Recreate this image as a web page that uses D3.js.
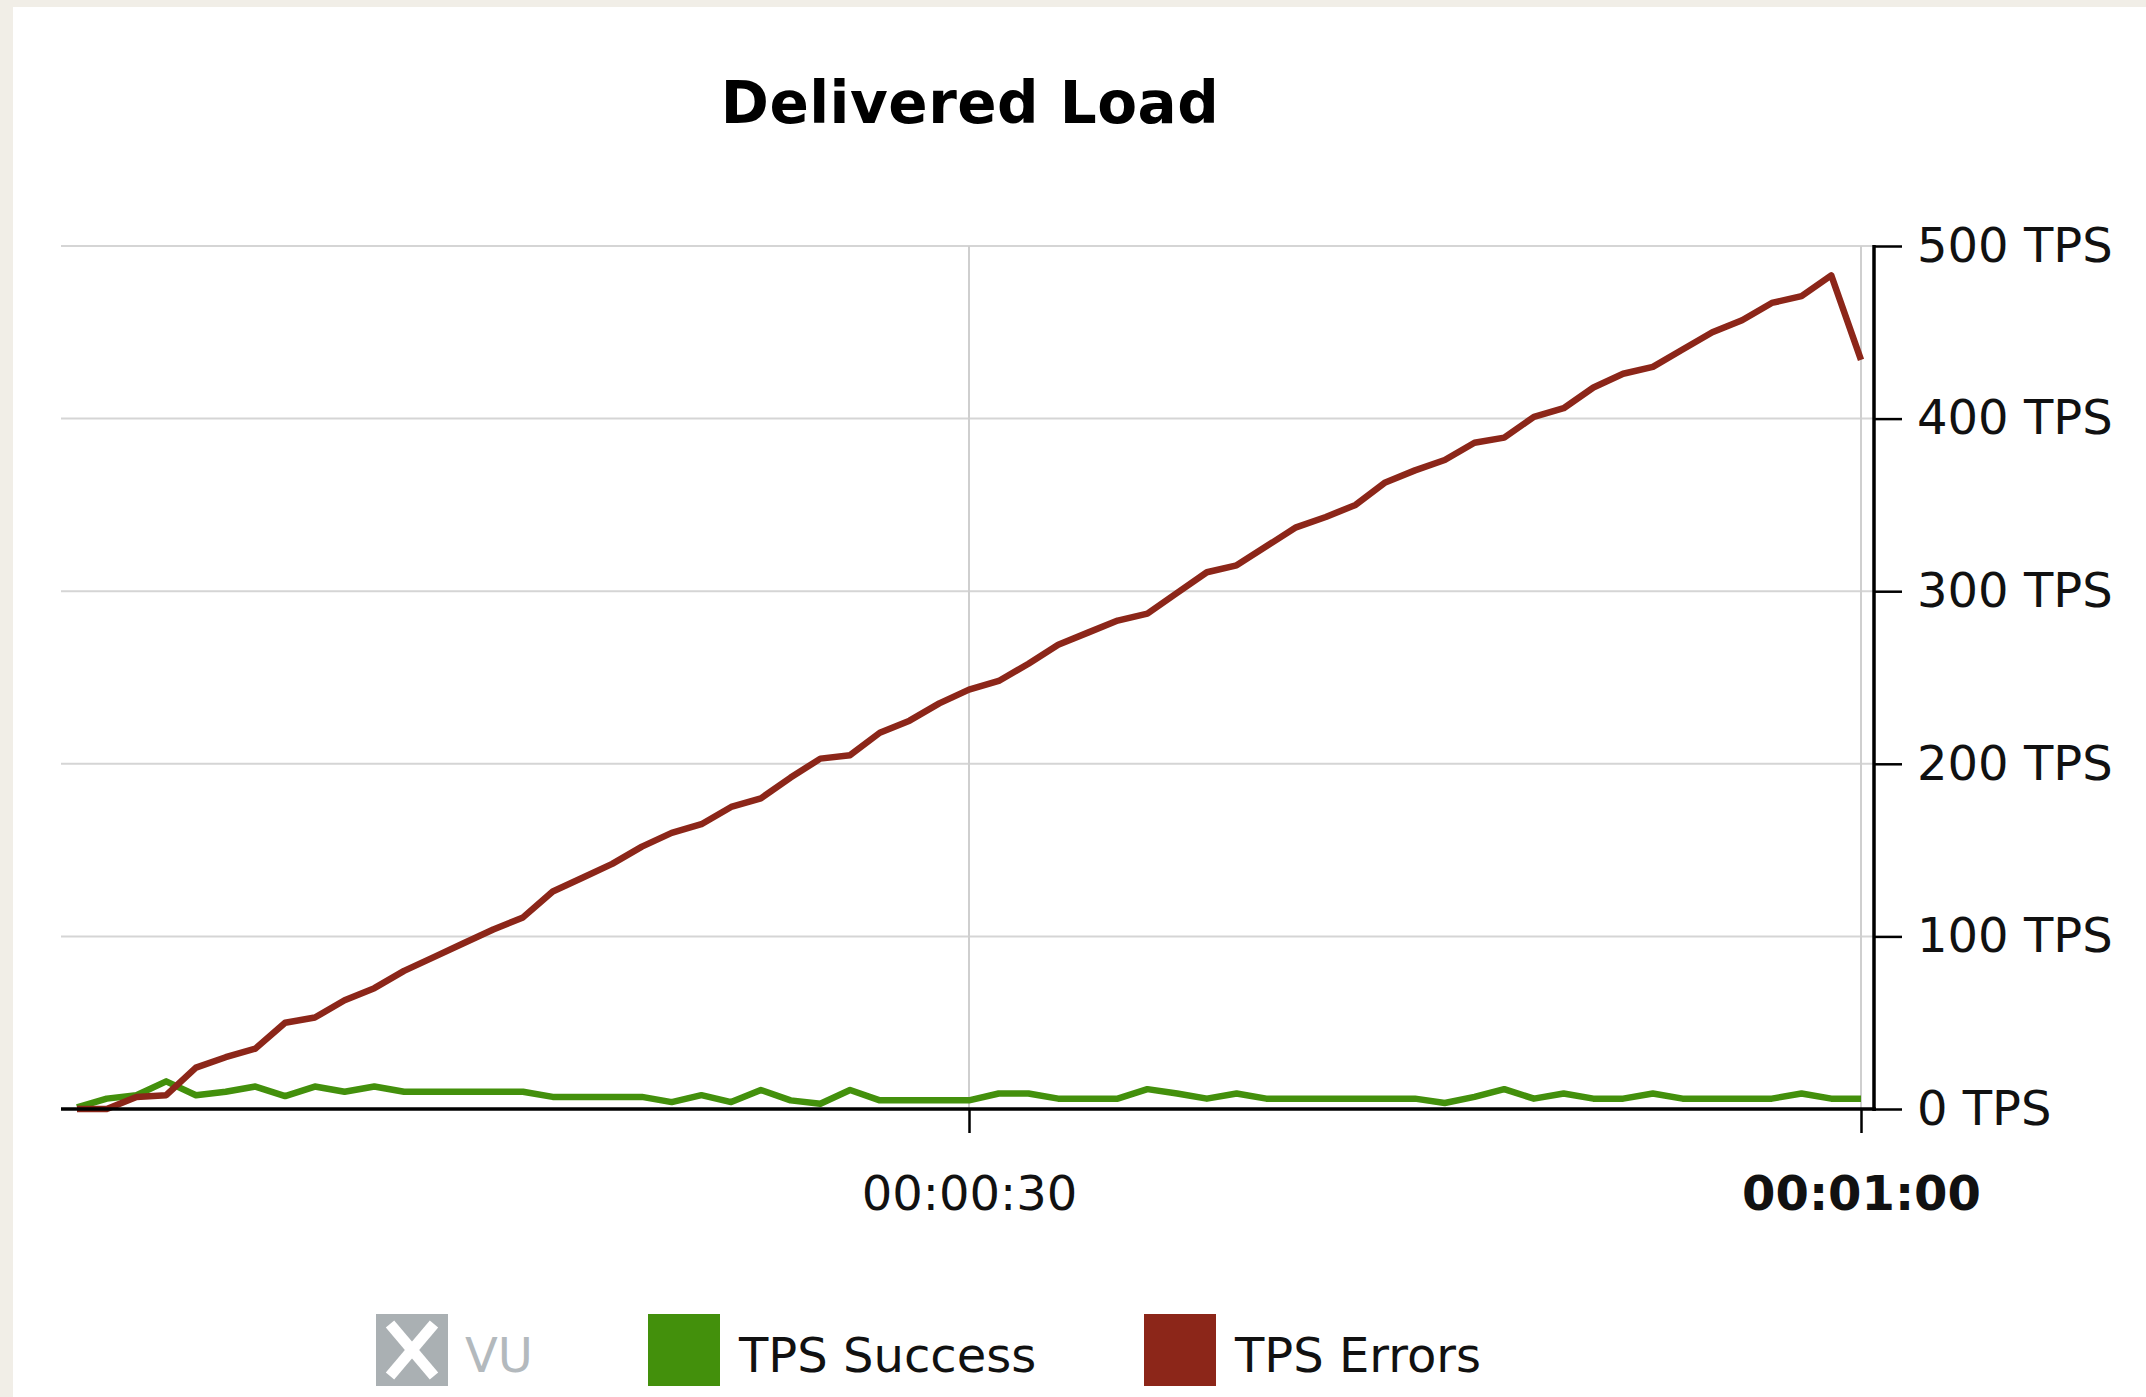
<!DOCTYPE html>
<html>
<head>
<meta charset="utf-8">
<script src="https://cdn.jsdelivr.net/npm/d3@7"></script>
<style>
  html, body { margin: 0; padding: 0; background: #f1eee7; }
  svg { display: block; }
</style>
</head>
<body>
<div id="chart"></div>
<script>
// seconds 0..60, one sample per second
var seconds = d3.range(0, 61);

var tpsErrors = [0, 0, 7, 8, 24, 30, 35, 50, 53, 63,
  70, 80, 88, 96, 104, 111, 126, 134, 142, 152,
  160, 165, 175, 180, 192, 203, 205, 218, 225, 235,
  243, 248, 258, 269, 276, 283, 287, 299, 311, 315,
  326, 337, 343, 350, 363, 370, 376, 386, 389, 401,
  406, 418, 426, 430, 440, 450, 457, 467, 471, 483,
  434];

var tpsSuccess = [1, 6, 8, 16, 8, 10, 13, 7.5, 13, 10,
  13, 10, 10, 10, 10, 10, 7, 7, 7, 7,
  4, 8, 4, 11, 5, 3, 11, 5, 5, 5,
  5, 9, 9, 6, 6, 6, 11.5, 9, 6, 9,
  6, 6, 6, 6, 6, 6, 3.5, 7, 11.5, 6,
  9, 6, 6, 9, 6, 6, 6, 6, 9, 6,
  6];

var yTicks = [0, 100, 200, 300, 400, 500];
var xTicks = [30, 60];
var xTickLabels = ["00:00:30", "00:01:00"];

var legendItems = ["VU", "TPS Success", "TPS Errors"];

var width = 2146;
var height = 1397;
var font = "'DejaVu Sans', Verdana, sans-serif";

var green = "#43900c";
var red = "#8c2619";

var svg = d3.select("#chart")
  .append("svg")
  .attr("width", width)
  .attr("height", height);

// white panel over the paper background
svg.append("rect")
  .attr("x", 13).attr("y", 7)
  .attr("width", width - 13).attr("height", height - 7)
  .attr("fill", "#fff");

/* Scale */
var xScale = d3.scaleLinear().domain([0, 60]).range([77, 1861]);
var yScale = d3.scaleLinear().domain([0, 500]).range([1109, 246]);

var plotLeft = 61;
var plotRight = 1874;

/* grid */
svg.append("g")
  .selectAll("line")
  .data(yTicks.filter(d => d > 0))
  .enter().append("line")
  .attr("x1", plotLeft).attr("x2", plotRight)
  .attr("y1", d => yScale(d)).attr("y2", d => yScale(d))
  .attr("stroke", "#d5d5d5")
  .attr("stroke-width", 2);

svg.append("g")
  .selectAll("line")
  .data(xTicks)
  .enter().append("line")
  .attr("x1", d => xScale(d)).attr("x2", d => xScale(d))
  .attr("y1", yScale(500)).attr("y2", yScale(0))
  .attr("stroke", "#cfcfcf")
  .attr("stroke-width", 2);

/* lines */
var line = d3.line()
  .x((d, i) => xScale(seconds[i]))
  .y(d => yScale(d));

svg.append("path")
  .attr("d", line(tpsSuccess))
  .attr("fill", "none")
  .attr("stroke", green)
  .attr("stroke-width", 6.5)
  .attr("stroke-linejoin", "round");

svg.append("path")
  .attr("d", line(tpsErrors))
  .attr("fill", "none")
  .attr("stroke", red)
  .attr("stroke-width", 6.5)
  .attr("stroke-linejoin", "round");

/* axes */
svg.append("line")
  .attr("x1", plotLeft).attr("x2", plotRight + 2)
  .attr("y1", yScale(0)).attr("y2", yScale(0))
  .attr("stroke", "#000").attr("stroke-width", 3.5);

var yAxis = d3.axisRight(yScale)
  .tickValues(yTicks)
  .tickSize(28)
  .tickPadding(15)
  .tickFormat(d => d + " TPS");

var yG = svg.append("g")
  .attr("transform", `translate(${plotRight}, 0)`)
  .call(yAxis);
yG.select(".domain").remove();
yG.append("line")
  .attr("x1", 0).attr("x2", 0)
  .attr("y1", yScale(500) - 1).attr("y2", yScale(0) + 2)
  .attr("stroke", "#000").attr("stroke-width", 3.5);
yG.selectAll(".tick line").attr("stroke", "#000").attr("stroke-width", 2.5);
yG.selectAll(".tick text")
  .attr("fill", "#111")
  .style("font-family", font)
  .style("font-size", "48px");

var xAxis = d3.axisBottom(xScale)
  .tickValues(xTicks)
  .tickSize(24)
  .tickFormat((d, i) => xTickLabels[i]);

var xG = svg.append("g")
  .attr("transform", `translate(0, ${yScale(0)})`)
  .call(xAxis);
xG.select(".domain").remove();
xG.selectAll(".tick line").attr("stroke", "#000").attr("stroke-width", 2.5);
xG.selectAll(".tick text")
  .attr("y", 67)
  .attr("fill", "#111")
  .style("font-family", font)
  .style("font-size", "48px")
  .style("font-weight", (d, i) => i == xTicks.length - 1 ? "bold" : "normal");

/* title */
svg.append("text")
  .attr("x", 970)
  .attr("y", 123)
  .attr("text-anchor", "middle")
  .style("font-family", font)
  .style("font-size", "58px")
  .style("font-weight", "bold")
  .style("letter-spacing", "0.5px")
  .attr("fill", "#000")
  .text("Delivered Load");

/* legend */
var legendX = [376, 648, 1144];
var legendColors = ["#aab0b3", green, red];
var boxY = 1314, boxSize = 72;

var legend = svg.append("g")
  .selectAll("g")
  .data(legendItems)
  .enter().append("g")
  .attr("transform", (d, i) => `translate(${legendX[i]}, ${boxY})`);

legend.append("rect")
  .attr("width", boxSize)
  .attr("height", boxSize)
  .attr("fill", (d, i) => legendColors[i]);

legend.append("text")
  .attr("x", (d, i) => i == 0 ? 89 : 91)
  .attr("y", 58)
  .style("font-family", font)
  .style("font-size", "48px")
  .attr("fill", (d, i) => i == 0 ? "#b3b9bd" : "#111")
  .text(d => d);

// the disabled VU entry gets a white cross
var cross = legend.filter((d, i) => i == 0);
cross.append("line")
  .attr("x1", 14).attr("y1", 10).attr("x2", 58).attr("y2", 62)
  .attr("stroke", "#fff").attr("stroke-width", 11);
cross.append("line")
  .attr("x1", 58).attr("y1", 10).attr("x2", 14).attr("y2", 62)
  .attr("stroke", "#fff").attr("stroke-width", 11);
</script>
</body>
</html>
